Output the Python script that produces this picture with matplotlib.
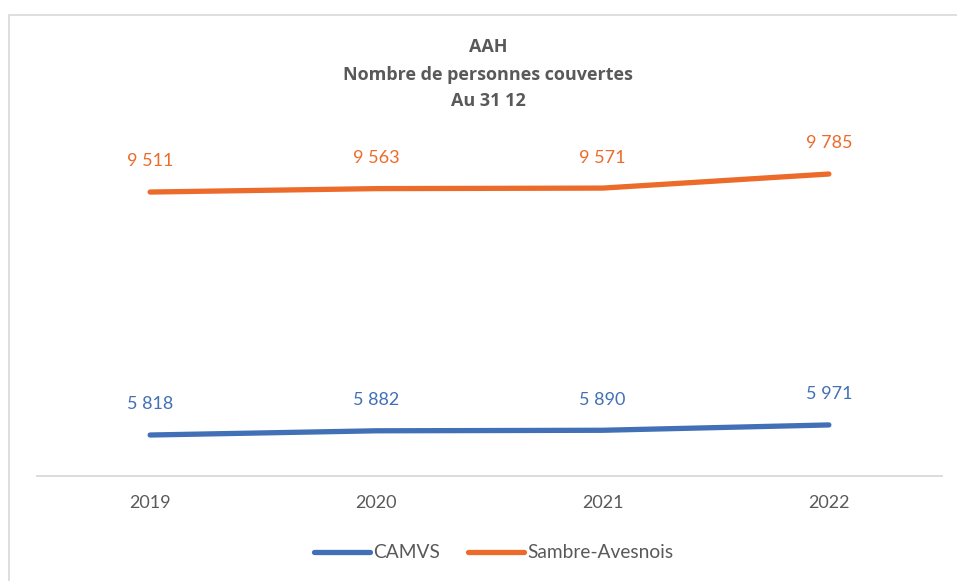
import matplotlib
matplotlib.use("Agg")
import matplotlib.pyplot as plt
from matplotlib.patches import Rectangle

plt.rcParams['font.family'] = ['Lato', 'DejaVu Sans']

years = ["2019", "2020", "2021", "2022"]
camvs = [5818, 5882, 5890, 5971]
sambre = [9511, 9563, 9571, 9785]
camvs_labels = ["5 818", "5 882", "5 890", "5 971"]
sambre_labels = ["9 511", "9 563", "9 571", "9 785"]
title_lines = ["AAH", "Nombre de personnes couvertes", "Au 31 12"]

W, H = 957, 581
fig = plt.figure(figsize=(W / 100, H / 100), dpi=100)
fig.patch.set_facecolor("white")

# chart border
fig.patches.append(Rectangle((9 / W, -0.1), 1.2, 1 - 15 / H + 0.1, transform=fig.transFigure,
                             fill=False, edgecolor="#D9D9D9", linewidth=1.2))

ax = fig.add_axes([37 / W, 1 - 476 / H, (942 - 37) / W, (476 - 140) / H])
x = list(range(len(years)))
blue = "#4170B6"
orange = "#EC6B2B"
l1, = ax.plot(x, camvs, color=blue, lw=3.8, solid_capstyle="round", label="CAMVS")
l2, = ax.plot(x, sambre, color=orange, lw=3.8, solid_capstyle="round", label="Sambre-Avesnois")

for xi, v, t in zip(x, camvs, camvs_labels):
    ax.annotate(t, (xi, v), xytext=(0, 22), textcoords="offset points", ha="center", va="center",
                color=blue, fontsize=13)
for xi, v, t in zip(x, sambre, sambre_labels):
    ax.annotate(t, (xi, v), xytext=(0, 22), textcoords="offset points", ha="center", va="center",
                color=orange, fontsize=13)

ax.set_xlim(-0.5, 3.5)
ax.set_ylim(5195, 10302)
ax.set_xticks(x)
ax.set_xticklabels(years, fontsize=13, color="#595959")
ax.set_yticks([])
ax.tick_params(axis="x", length=0, pad=14)
for s in ["top", "right", "left"]:
    ax.spines[s].set_visible(False)
ax.spines["bottom"].set_color("#D9D9D9")
ax.spines["bottom"].set_linewidth(1.3)
ax.set_facecolor("none")

ys = [47, 75, 101]
for t, yy in zip(title_lines, ys):
    fig.text(488 / W, 1 - yy / H, t, ha="center", va="center", fontsize=13, fontweight="bold",
             color="#595959", family=["Open Sans", "DejaVu Sans"])

fig.legend(handles=[l1, l2], loc="center", bbox_to_anchor=(494 / W, 1 - 553 / H), ncol=2,
           frameon=False, fontsize=13.8, handlelength=2.9, handletextpad=0.2, columnspacing=1.45,
           labelcolor="#595959")

fig.savefig("out.png", dpi=100, facecolor="white")
